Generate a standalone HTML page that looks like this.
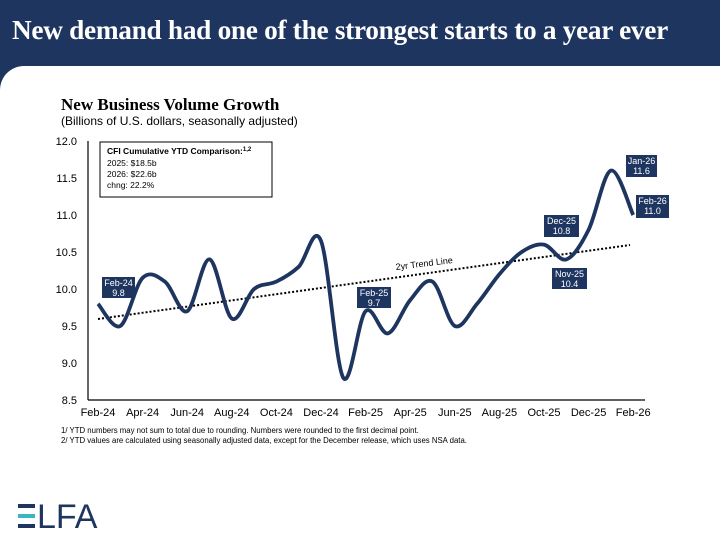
<!DOCTYPE html>
<html><head><meta charset="utf-8"><style>
body{margin:0;width:720px;height:540px;background:#fff;overflow:hidden;font-family:"Liberation Sans",sans-serif;position:relative}
.hdr{position:absolute;left:0;top:0;width:720px;height:92px;background:#1e3560}
.wh{position:absolute;left:0;top:66px;width:720px;height:474px;background:#fff;border-top-left-radius:24px}
.t{position:absolute;left:12px;top:15px;color:#fff;font-family:"Liberation Serif",serif;font-weight:bold;font-size:27.3px;letter-spacing:-0.3px;white-space:nowrap}
</style></head><body>
<div class="hdr"></div><div class="wh"></div>
<div class="t">New demand had one of the strongest starts to a year ever</div>
<svg width="720" height="540" style="position:absolute;left:0;top:0">
<text x="61" y="110" font-family="Liberation Serif" font-weight="bold" font-size="17" fill="#000">New Business Volume Growth</text>
<text x="61" y="125" font-size="12" fill="#000">(Billions of U.S. dollars, seasonally adjusted)</text>
<g font-size="11" fill="#000" text-anchor="end" id="yl"></g>
<line x1="88" y1="141" x2="88" y2="400" stroke="#000" stroke-width="1.2"/>
<line x1="88" y1="400" x2="645" y2="400" stroke="#000" stroke-width="1.2"/>
<g font-size="11" fill="#000" text-anchor="middle" id="xl"></g>
<line x1="98" y1="319" x2="630" y2="245" stroke="#000" stroke-width="2" stroke-dasharray="2,2"/>
<text x="396" y="270" font-size="9" transform="rotate(-7 396 270)">2yr Trend Line</text>
<path id="ln" fill="none" stroke="#1e3560" stroke-width="3.8" stroke-linejoin="round"/>
<rect x="100" y="142" width="172" height="55" fill="#fff" stroke="#000" stroke-width="1"/>
<text x="107" y="154" font-size="8.5" font-weight="bold">CFI Cumulative YTD Comparison:<tspan font-size="6" dy="-3">1,2</tspan></text>
<text x="107" y="166" font-size="8.5">2025: $18.5b</text>
<text x="107" y="177" font-size="8.5">2026: $22.6b</text>
<text x="107" y="188" font-size="8.5">chng: 22.2%</text>
<g id="lb" font-size="9" fill="#fff" text-anchor="middle"></g>
<text x="61" y="433" font-size="7.8">1/ YTD numbers may not sum to total due to rounding. Numbers were rounded to the first decimal point.</text>
<text x="61" y="443" font-size="7.8">2/ YTD values are calculated using seasonally adjusted data, except for the December release, which uses NSA data.</text>
<rect x="18" y="504" width="17" height="4" fill="#1e3560"/>
<rect x="18" y="514" width="17" height="4" fill="#3ab5c6"/>
<rect x="18" y="524" width="17" height="4" fill="#1e3560"/>
<text x="37" y="528" font-size="34" fill="#1e3560">LFA</text>
</svg>
<script>
var ns="http://www.w3.org/2000/svg";
function Y(v){return 141+(12-v)*74}function X(i){return 98+22.3*i}
var yl=document.getElementById("yl");
for(var v=8.5;v<=12.01;v+=0.5){var t=document.createElementNS(ns,"text");t.setAttribute("x",77);t.setAttribute("y",Y(v)+4);t.textContent=v.toFixed(1);yl.appendChild(t);}
var xl=document.getElementById("xl");
var names=["Feb-24","Apr-24","Jun-24","Aug-24","Oct-24","Dec-24","Feb-25","Apr-25","Jun-25","Aug-25","Oct-25","Dec-25","Feb-26"];
names.forEach(function(n,k){var t=document.createElementNS(ns,"text");t.setAttribute("x",X(2*k));t.setAttribute("y",416);t.textContent=n;xl.appendChild(t);});
var d=[9.8,9.5,10.15,10.1,9.7,10.4,9.6,10.0,10.1,10.3,10.65,8.8,9.7,9.4,9.85,10.1,9.5,9.8,10.2,10.5,10.6,10.4,10.8,11.6,11.0];
var p=d.map(function(v,i){return [X(i),Y(v)]});
var s="M"+p[0][0]+","+p[0][1];
for(var i=0;i<p.length-1;i++){var a=p[Math.max(i-1,0)],b=p[i],c=p[i+1],e=p[Math.min(i+2,p.length-1)];
s+=" C"+(b[0]+(c[0]-a[0])/6)+","+(b[1]+(c[1]-a[1])/6)+" "+(c[0]-(e[0]-b[0])/6)+","+(c[1]-(e[1]-b[1])/6)+" "+c[0]+","+c[1];}
document.getElementById("ln").setAttribute("d",s);
var lb=document.getElementById("lb");
[[102,277,33,21,"Feb-24","9.8"],[357,287,34,21,"Feb-25","9.7"],[544,215,35,22,"Dec-25","10.8"],[552,268,35,21,"Nov-25","10.4"],[626,155,31,22,"Jan-26","11.6"],[636,195,33,23,"Feb-26","11.0"]].forEach(function(q){
var r=document.createElementNS(ns,"rect");r.setAttribute("x",q[0]);r.setAttribute("y",q[1]);r.setAttribute("width",q[2]);r.setAttribute("height",q[3]);r.setAttribute("fill","#1e3560");lb.appendChild(r);
var t1=document.createElementNS(ns,"text");t1.setAttribute("x",q[0]+q[2]/2);t1.setAttribute("y",q[1]+9);t1.textContent=q[4];lb.appendChild(t1);
var t2=document.createElementNS(ns,"text");t2.setAttribute("x",q[0]+q[2]/2);t2.setAttribute("y",q[1]+19);t2.textContent=q[5];lb.appendChild(t2);});
</script>
</body></html>
